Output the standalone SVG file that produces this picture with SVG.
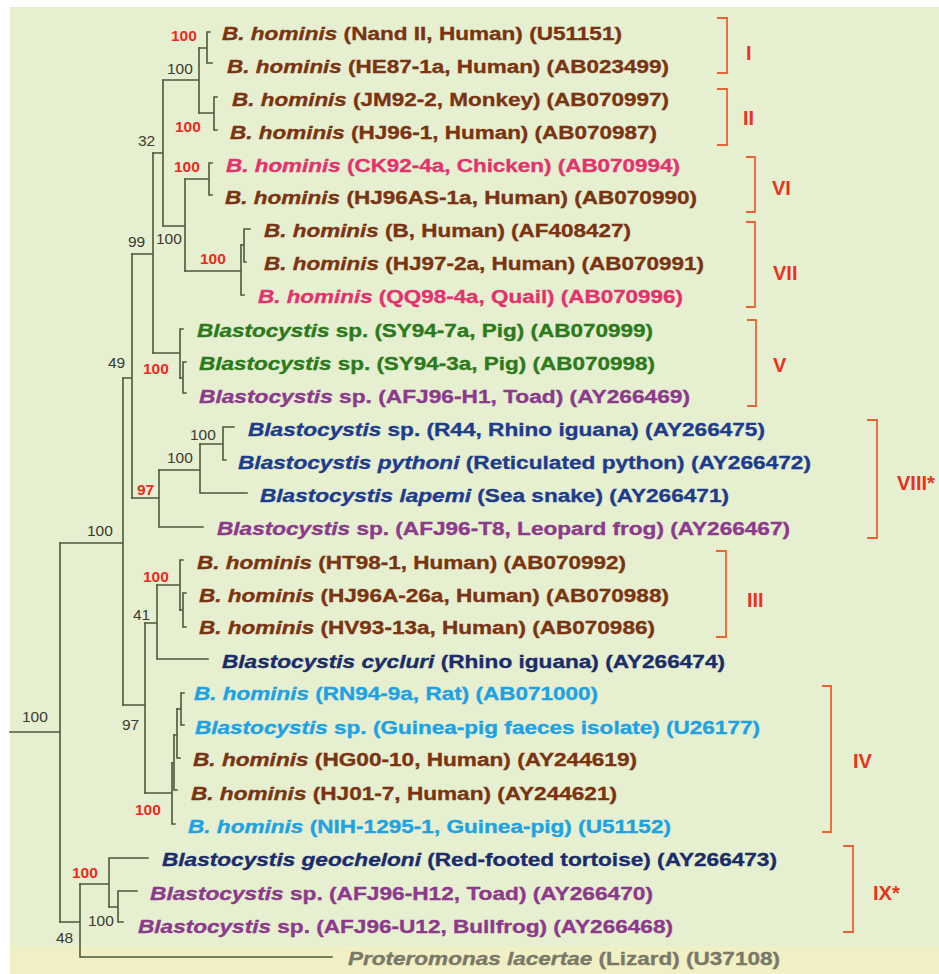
<svg xmlns="http://www.w3.org/2000/svg" width="939" height="974" viewBox="0 0 939 974">
<style>
.bg{fill:#e6efcf}
.tree path{fill:none;stroke:#4b5a3c;stroke-width:1.6;stroke-linecap:square}
.lf{font-family:"Liberation Sans",Arial,sans-serif;font-weight:bold;font-size:19.2px;stroke-width:0.35px}
.it{font-style:italic}
.brown{fill:#7a3412;stroke:#7a3412}.pink{fill:#e2336f;stroke:#e2336f}.green{fill:#2b7a1c;stroke:#2b7a1c}.purple{fill:#8c3a8c;stroke:#8c3a8c}
.blue{fill:#1e3c8c;stroke:#1e3c8c}.navy{fill:#1b2c6a;stroke:#1b2c6a}.cyan{fill:#1ea2e2;stroke:#1ea2e2}.gray{fill:#7a7868;stroke:#7a7868}
.bs{font-family:"Liberation Sans",Arial,sans-serif;font-size:15.5px;fill:#3a3b30}
.rs{font-family:"Liberation Sans",Arial,sans-serif;font-size:15.5px;font-weight:bold;fill:#ea2a1e}
.br path{fill:none;stroke:#e9642e;stroke-width:1.8}
.bl{font-family:"Liberation Sans",Arial,sans-serif;font-size:20px;font-weight:bold;fill:#ea321e}
</style>
<rect width="939" height="974" fill="#ffffff"/>
<rect class="bg" x="10" y="7" width="929" height="967"/>
<rect x="10" y="946" width="929" height="28" fill="#f0f0c4"/>

<g id="connectors" class="tree">
<path d="M207 32V63M207 32H210M207 63H212M199 48H207"/>
<path d="M214 97V130M214 97H217M214 130H217M199 113H214"/>
<path d="M199 48V113M163 80H199"/>
<path d="M209 163V195M209 163H212M209 195H212M185 179H209"/>
<path d="M244 229V262M244 229H250M244 262H246M241 245H244"/>
<path d="M241 245V295M241 295H244M185 271H241"/>
<path d="M185 179V271M163 226H185"/>
<path d="M163 80V226M153 153H163"/>
<path d="M183 362V393M183 362H186M183 393H186M180 378H183"/>
<path d="M180 329V378M180 329H183M153 353H180"/>
<path d="M153 153V353M132 254H153"/>
<path d="M223 427V460M223 427H234M223 460H226M200 444H223"/>
<path d="M200 444V493M200 493H247M159 470H200"/>
<path d="M159 470V527M159 527H203M132 498H159"/>
<path d="M132 254V498M123 378H132"/>
<path d="M183 593V627M183 593H186M183 627H186M180 610H183"/>
<path d="M180 560V610M180 560H183M157 585H180"/>
<path d="M157 585V659M157 659H208M145 623H157"/>
<path d="M181 693V725M181 693H184M181 725H184M177 709H181"/>
<path d="M177 709V758M177 758H180M174 735H177"/>
<path d="M174 735V790M174 790H177M172 763H174"/>
<path d="M172 763V824M172 824H175M145 793H172"/>
<path d="M145 623V793M123 705H145"/>
<path d="M123 378V705M60 543H123"/>
<path d="M118 891V922M118 891H137M118 922H123M109 907H118"/>
<path d="M109 858V907M109 858H148M80 884H109"/>
<path d="M80 884V957M80 957H332M60 922H80"/>
<path d="M60 543V922M10 732H60"/>
</g>

<g id="support">
<text class="rs" x="171" y="41">100</text>
<text class="bs" x="167" y="74">100</text>
<text class="rs" x="175" y="132">100</text>
<text class="bs" x="138" y="146">32</text>
<text class="rs" x="174" y="172">100</text>
<text class="bs" x="128" y="247">99</text>
<text class="bs" x="156" y="244">100</text>
<text class="rs" x="200" y="264">100</text>
<text class="bs" x="108" y="368">49</text>
<text class="rs" x="143" y="374">100</text>
<text class="bs" x="190" y="440">100</text>
<text class="bs" x="167" y="463">100</text>
<text class="rs" x="137" y="495">97</text>
<text class="bs" x="87" y="536">100</text>
<text class="rs" x="143" y="582">100</text>
<text class="bs" x="133" y="620">41</text>
<text class="bs" x="22" y="722">100</text>
<text class="bs" x="122" y="730">97</text>
<text class="rs" x="135" y="815">100</text>
<text class="rs" x="72" y="878">100</text>
<text class="bs" x="88" y="926">100</text>
<text class="bs" x="56" y="943">48</text>
</g>

<g id="leaf1"><text class="lf brown" x="222" y="39.5" textLength="400" lengthAdjust="spacingAndGlyphs"><tspan class="it">B. hominis</tspan> (Nand II, Human) (U51151)</text></g>
<g id="leaf2"><text class="lf brown" x="227" y="72.5" textLength="442" lengthAdjust="spacingAndGlyphs"><tspan class="it">B. hominis</tspan> (HE87-1a, Human) (AB023499)</text></g>
<g id="leaf3"><text class="lf brown" x="232" y="105.5" textLength="437" lengthAdjust="spacingAndGlyphs"><tspan class="it">B. hominis</tspan> (JM92-2, Monkey) (AB070997)</text></g>
<g id="leaf4"><text class="lf brown" x="230" y="138.5" textLength="427" lengthAdjust="spacingAndGlyphs"><tspan class="it">B. hominis</tspan> (HJ96-1, Human) (AB070987)</text></g>
<g id="leaf5"><text class="lf pink" x="226" y="171.5" textLength="454" lengthAdjust="spacingAndGlyphs"><tspan class="it">B. hominis</tspan> (CK92-4a, Chicken) (AB070994)</text></g>
<g id="leaf6"><text class="lf brown" x="225" y="203.5" textLength="472" lengthAdjust="spacingAndGlyphs"><tspan class="it">B. hominis</tspan> (HJ96AS-1a, Human) (AB070990)</text></g>
<g id="leaf7"><text class="lf brown" x="264" y="236.5" textLength="367" lengthAdjust="spacingAndGlyphs"><tspan class="it">B. hominis</tspan> (B, Human) (AF408427)</text></g>
<g id="leaf8"><text class="lf brown" x="264" y="269.5" textLength="440" lengthAdjust="spacingAndGlyphs"><tspan class="it">B. hominis</tspan> (HJ97-2a, Human) (AB070991)</text></g>
<g id="leaf9"><text class="lf pink" x="258" y="302.5" textLength="425" lengthAdjust="spacingAndGlyphs"><tspan class="it">B. hominis</tspan> (QQ98-4a, Quail) (AB070996)</text></g>
<g id="leaf10"><text class="lf green" x="197" y="336.5" textLength="456" lengthAdjust="spacingAndGlyphs"><tspan class="it">Blastocystis</tspan> sp. (SY94-7a, Pig) (AB070999)</text></g>
<g id="leaf11"><text class="lf green" x="199" y="369.5" textLength="456" lengthAdjust="spacingAndGlyphs"><tspan class="it">Blastocystis</tspan> sp. (SY94-3a, Pig) (AB070998)</text></g>
<g id="leaf12"><text class="lf purple" x="199" y="402.5" textLength="491" lengthAdjust="spacingAndGlyphs"><tspan class="it">Blastocystis</tspan> sp. (AFJ96-H1, Toad) (AY266469)</text></g>
<g id="leaf13"><text class="lf blue" x="248" y="435.5" textLength="517" lengthAdjust="spacingAndGlyphs"><tspan class="it">Blastocystis</tspan> sp. (R44, Rhino iguana) (AY266475)</text></g>
<g id="leaf14"><text class="lf blue" x="238" y="468.5" textLength="573" lengthAdjust="spacingAndGlyphs"><tspan class="it">Blastocystis pythoni</tspan> (Reticulated python) (AY266472)</text></g>
<g id="leaf15"><text class="lf blue" x="260" y="501.5" textLength="469" lengthAdjust="spacingAndGlyphs"><tspan class="it">Blastocystis lapemi</tspan> (Sea snake) (AY266471)</text></g>
<g id="leaf16"><text class="lf purple" x="217" y="534.5" textLength="573" lengthAdjust="spacingAndGlyphs"><tspan class="it">Blastocystis</tspan> sp. (AFJ96-T8, Leopard frog) (AY266467)</text></g>
<g id="leaf17"><text class="lf brown" x="197" y="568.5" textLength="429" lengthAdjust="spacingAndGlyphs"><tspan class="it">B. hominis</tspan> (HT98-1, Human) (AB070992)</text></g>
<g id="leaf18"><text class="lf brown" x="199" y="601.5" textLength="470" lengthAdjust="spacingAndGlyphs"><tspan class="it">B. hominis</tspan> (HJ96A-26a, Human) (AB070988)</text></g>
<g id="leaf19"><text class="lf brown" x="199" y="633.5" textLength="456" lengthAdjust="spacingAndGlyphs"><tspan class="it">B. hominis</tspan> (HV93-13a, Human) (AB070986)</text></g>
<g id="leaf20"><text class="lf navy" x="222" y="667.5" textLength="503" lengthAdjust="spacingAndGlyphs"><tspan class="it">Blastocystis cycluri</tspan> (Rhino iguana) (AY266474)</text></g>
<g id="leaf21"><text class="lf cyan" x="194" y="699.5" textLength="404" lengthAdjust="spacingAndGlyphs"><tspan class="it">B. hominis</tspan> (RN94-9a, Rat) (AB071000)</text></g>
<g id="leaf22"><text class="lf cyan" x="195" y="733.5" textLength="565" lengthAdjust="spacingAndGlyphs"><tspan class="it">Blastocystis</tspan> sp. (Guinea-pig faeces isolate) (U26177)</text></g>
<g id="leaf23"><text class="lf brown" x="193" y="765.5" textLength="444" lengthAdjust="spacingAndGlyphs"><tspan class="it">B. hominis</tspan> (HG00-10, Human) (AY244619)</text></g>
<g id="leaf24"><text class="lf brown" x="191" y="799.5" textLength="426" lengthAdjust="spacingAndGlyphs"><tspan class="it">B. hominis</tspan> (HJ01-7, Human) (AY244621)</text></g>
<g id="leaf25"><text class="lf cyan" x="188" y="832.5" textLength="483" lengthAdjust="spacingAndGlyphs"><tspan class="it">B. hominis</tspan> (NIH-1295-1, Guinea-pig) (U51152)</text></g>
<g id="leaf26"><text class="lf navy" x="162" y="865.5" textLength="615" lengthAdjust="spacingAndGlyphs"><tspan class="it">Blastocystis geocheloni</tspan> (Red-footed tortoise) (AY266473)</text></g>
<g id="leaf27"><text class="lf purple" x="150" y="899.5" textLength="503" lengthAdjust="spacingAndGlyphs"><tspan class="it">Blastocystis</tspan> sp. (AFJ96-H12, Toad) (AY266470)</text></g>
<g id="leaf28"><text class="lf purple" x="138" y="932.5" textLength="535" lengthAdjust="spacingAndGlyphs"><tspan class="it">Blastocystis</tspan> sp. (AFJ96-U12, Bullfrog) (AY266468)</text></g>
<g id="leaf29"><text class="lf gray" x="348" y="964.5" textLength="432" lengthAdjust="spacingAndGlyphs"><tspan class="it">Proteromonas lacertae</tspan> (Lizard) (U37108)</text></g>

<g id="clade-I" class="br"><path d="M717 18H727V73H717"/><text class="bl" x="746" y="60">I</text></g>
<g id="clade-II" class="br"><path d="M717 89H727V145H717"/><text class="bl" x="743" y="125">II</text></g>
<g id="clade-VI" class="br"><path d="M746 157H755V212H746"/><text class="bl" x="772" y="195">VI</text></g>
<g id="clade-VII" class="br"><path d="M746 222H755V307H746"/><text class="bl" x="773" y="280">VII</text></g>
<g id="clade-V" class="br"><path d="M747 320H756V406H747"/><text class="bl" x="773" y="372">V</text></g>
<g id="clade-VIII" class="br"><path d="M867 420H877V538H867"/><text class="bl" x="897" y="490">VIII*</text></g>
<g id="clade-III" class="br"><path d="M716 551H726V637H716"/><text class="bl" x="747" y="607">III</text></g>
<g id="clade-IV" class="br"><path d="M822 686H831V832H822"/><text class="bl" x="853" y="768">IV</text></g>
<g id="clade-IX" class="br"><path d="M843 846H853V932H843"/><text class="bl" x="873" y="900">IX*</text></g>
</svg>
